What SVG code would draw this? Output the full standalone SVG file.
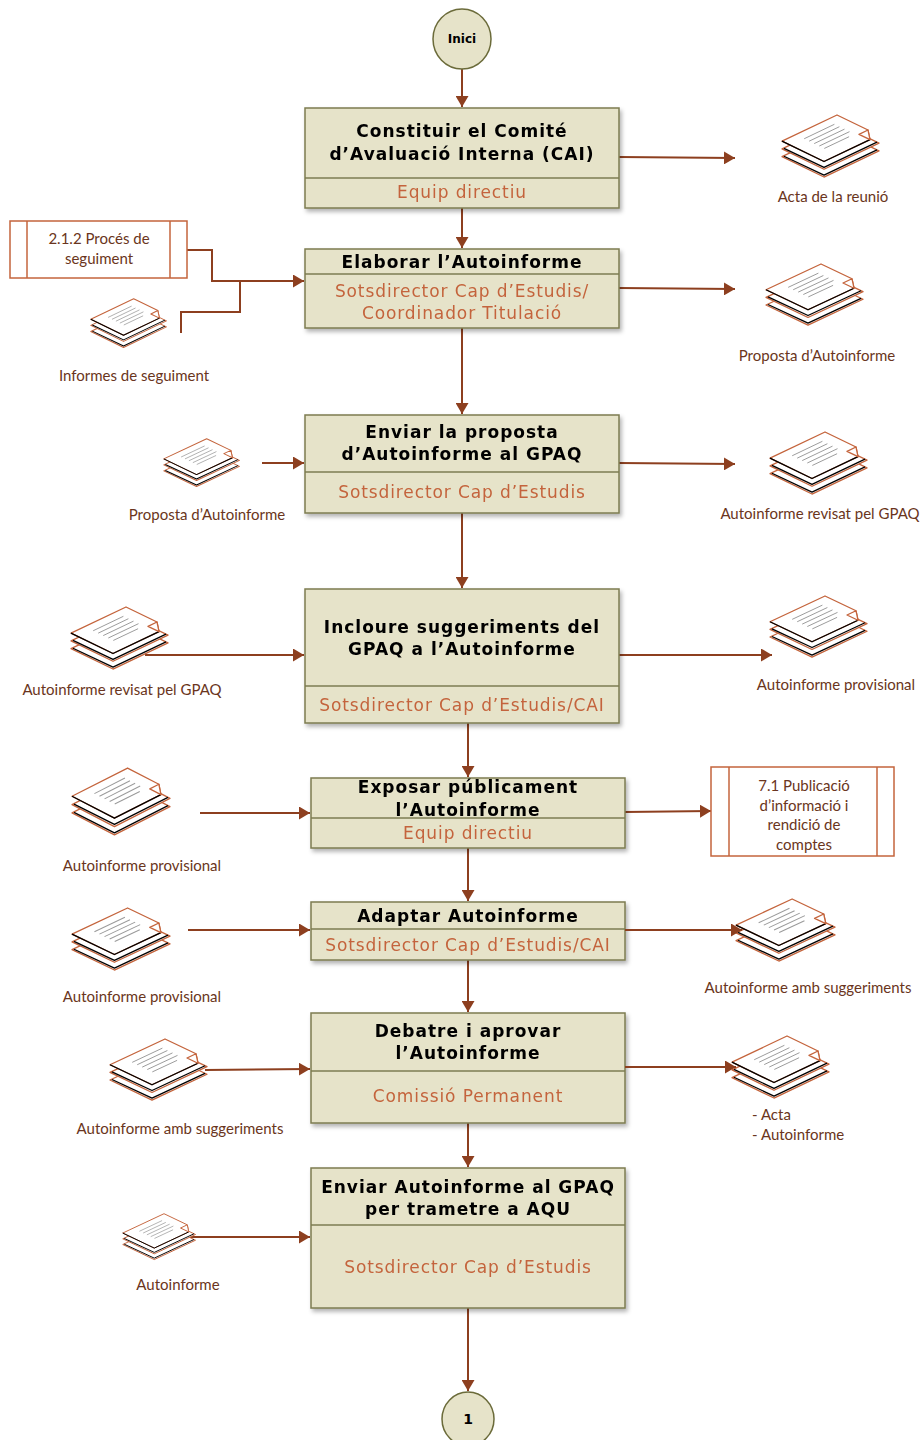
<svg xmlns="http://www.w3.org/2000/svg" xmlns:xlink="http://www.w3.org/1999/xlink" width="923" height="1440" viewBox="0 0 923 1440">
<style>
.box{fill:#e6e3c9;stroke:#7d7c50;stroke-width:1.5}
.div{stroke:#7d7c50;stroke-width:1.5}
.title{font-family:"DejaVu Sans",Verdana,sans-serif;font-weight:bold;font-size:17px;letter-spacing:1px;fill:#000;text-anchor:middle}
.role{font-family:"DejaVu Sans",Verdana,sans-serif;font-size:17px;letter-spacing:0.9px;fill:#c4643c;text-anchor:middle}
.lbl{font-family:Lato,"Liberation Sans",sans-serif;font-size:15px;fill:#6a3520;text-anchor:middle}
.lbls{font-family:Lato,"Liberation Sans",sans-serif;font-size:15px;fill:#6a3520;text-anchor:start}
.sub{fill:#fff;stroke:#c4643c;stroke-width:1.5}
.conn{fill:none;stroke:#8d3f1f;stroke-width:2}
.term{fill:#e6e3c9;stroke:#6b6b3a;stroke-width:1.5}
.termt{font-family:"DejaVu Sans",Verdana,sans-serif;font-weight:bold;fill:#000;text-anchor:middle}
</style>
<defs>
<marker id="arr" markerUnits="userSpaceOnUse" markerWidth="12" markerHeight="13" refX="11" refY="6.5" orient="auto">
<path d="M0,0 L11,6.5 L0,13 z" fill="#8d3f1f"/>
</marker>
<filter id="sh" x="-5%" y="-5%" width="115%" height="120%">
<feDropShadow dx="2" dy="3" stdDeviation="2" flood-color="#000" flood-opacity="0.3"/>
</filter>
<symbol id="doc" viewBox="-1 -1 100 67" preserveAspectRatio="none">
<g stroke-linejoin="round" stroke-width="1.3">
<polygon points="0,43 55,16 97,37 42,64" fill="#fff" stroke="#c4643c"/>
<polyline points="2,42.5 42,62 95,36" fill="none" stroke="#000"/>
<polygon points="0,35 55,8 97,29 42,56" fill="#fff" stroke="#c4643c"/>
<polyline points="2,34.5 42,54 95,28" fill="none" stroke="#000"/>
<polygon points="0,27 55,0 86,15.5 88,25.4 42,48" fill="#fff" stroke="#c4643c"/>
<polyline points="0,27 42,48 88,25.4" fill="none" stroke="#000"/>
<polygon points="86,15.5 77,20 88,25.4" fill="#fff" stroke="#c4643c"/>
<g stroke="#9a9a9a" stroke-width="1">
<line x1="22.2" y1="24.5" x2="52.4" y2="9.6"/>
<line x1="27.2" y1="27" x2="57.4" y2="12.1"/>
<line x1="32.2" y1="29.5" x2="62.5" y2="14.6"/>
<line x1="37.3" y1="32" x2="67.5" y2="17.2"/>
<line x1="42.3" y1="34.5" x2="67.1" y2="22.4"/>
</g>
</g>
</symbol>
</defs>

<g id="connectors">
<path class="conn" d="M462,69 V107" marker-end="url(#arr)"/>
<path class="conn" d="M619,157 L735,158" marker-end="url(#arr)"/>
<path class="conn" d="M462,208 V248" marker-end="url(#arr)"/>
<path class="conn" d="M187,250 H212 V281 H304" marker-end="url(#arr)"/>
<path class="conn" d="M181,333 V312 H240 V281"/>
<path class="conn" d="M619,288 L735,289" marker-end="url(#arr)"/>
<path class="conn" d="M462,328 V414" marker-end="url(#arr)"/>
<path class="conn" d="M262,463 H304" marker-end="url(#arr)"/>
<path class="conn" d="M619,463 L735,464" marker-end="url(#arr)"/>
<path class="conn" d="M462,513 V588" marker-end="url(#arr)"/>
<path class="conn" d="M145,655 H304" marker-end="url(#arr)"/>
<path class="conn" d="M619,655 H772" marker-end="url(#arr)"/>
<path class="conn" d="M468,723 V777" marker-end="url(#arr)"/>
<path class="conn" d="M200,813 H310" marker-end="url(#arr)"/>
<path class="conn" d="M625,812 L711,811" marker-end="url(#arr)"/>
<path class="conn" d="M468,848 V901" marker-end="url(#arr)"/>
<path class="conn" d="M188,930 H310" marker-end="url(#arr)"/>
<path class="conn" d="M468,960 V1012" marker-end="url(#arr)"/>
<path class="conn" d="M205,1070 L310,1069" marker-end="url(#arr)"/>
<path class="conn" d="M468,1123 V1167" marker-end="url(#arr)"/>
<path class="conn" d="M190,1237 H310" marker-end="url(#arr)"/>
<path class="conn" d="M468,1308 V1391" marker-end="url(#arr)"/>
</g>

<g id="start">
<ellipse class="term" cx="462" cy="39" rx="29" ry="30"/>
<text class="termt" x="462" y="43" font-size="12">Inici</text>
</g>

<g id="n1" filter="url(#sh)">
<rect class="box" x="305" y="108" width="314" height="100"/>
<line class="div" x1="305" y1="178" x2="619" y2="178"/>
<text class="title" x="462" y="137">Constituir el Comité</text>
<text class="title" x="462" y="160">d’Avaluació Interna (CAI)</text>
<text class="role" x="462" y="198">Equip directiu</text>
</g>

<g id="n2" filter="url(#sh)">
<rect class="box" x="305" y="249" width="314" height="79"/>
<line class="div" x1="305" y1="274" x2="619" y2="274"/>
<text class="title" x="462" y="268">Elaborar l’Autoinforme</text>
<text class="role" x="462" y="297">Sotsdirector Cap d’Estudis/</text>
<text class="role" x="462" y="319">Coordinador Titulació</text>
</g>

<g id="n3" filter="url(#sh)">
<rect class="box" x="305" y="415" width="314" height="98"/>
<line class="div" x1="305" y1="472" x2="619" y2="472"/>
<text class="title" x="462" y="438">Enviar la proposta</text>
<text class="title" x="462" y="460">d’Autoinforme al GPAQ</text>
<text class="role" x="462" y="498">Sotsdirector Cap d’Estudis</text>
</g>

<g id="n4" filter="url(#sh)">
<rect class="box" x="305" y="589" width="314" height="134"/>
<line class="div" x1="305" y1="686" x2="619" y2="686"/>
<text class="title" x="462" y="633">Incloure suggeriments del</text>
<text class="title" x="462" y="655">GPAQ a l’Autoinforme</text>
<text class="role" x="462" y="711">Sotsdirector Cap d’Estudis/CAI</text>
</g>

<g id="n5" filter="url(#sh)">
<rect class="box" x="311" y="778" width="314" height="70"/>
<line class="div" x1="311" y1="818" x2="625" y2="818"/>
<text class="title" x="468" y="793">Exposar públicament</text>
<text class="title" x="468" y="816">l’Autoinforme</text>
<text class="role" x="468" y="839">Equip directiu</text>
</g>

<g id="n6" filter="url(#sh)">
<rect class="box" x="311" y="902" width="314" height="58"/>
<line class="div" x1="311" y1="929" x2="625" y2="929"/>
<text class="title" x="468" y="922">Adaptar Autoinforme</text>
<text class="role" x="468" y="951">Sotsdirector Cap d’Estudis/CAI</text>
</g>

<g id="n7" filter="url(#sh)">
<rect class="box" x="311" y="1013" width="314" height="110"/>
<line class="div" x1="311" y1="1071" x2="625" y2="1071"/>
<text class="title" x="468" y="1037">Debatre i aprovar</text>
<text class="title" x="468" y="1059">l’Autoinforme</text>
<text class="role" x="468" y="1102">Comissió Permanent</text>
</g>

<g id="n8" filter="url(#sh)">
<rect class="box" x="311" y="1168" width="314" height="140"/>
<line class="div" x1="311" y1="1225" x2="625" y2="1225"/>
<text class="title" x="468" y="1193">Enviar Autoinforme al GPAQ</text>
<text class="title" x="468" y="1215">per trametre a AQU</text>
<text class="role" x="468" y="1273">Sotsdirector Cap d’Estudis</text>
</g>

<g id="end">
<ellipse class="term" cx="468" cy="1419" rx="26" ry="27"/>
<text class="termt" x="468" y="1424" font-size="14">1</text>
</g>

<g id="sp212">
<rect class="sub" x="10" y="221" width="177" height="57"/>
<line class="sub" x1="27" y1="221" x2="27" y2="278"/>
<line class="sub" x1="170" y1="221" x2="170" y2="278"/>
<text class="lbl" x="99" y="244">2.1.2 Procés de</text>
<text class="lbl" x="99" y="264">seguiment</text>
</g>

<g id="sp71">
<rect class="sub" x="711" y="767" width="183" height="89"/>
<line class="sub" x1="729" y1="767" x2="729" y2="856"/>
<line class="sub" x1="877" y1="767" x2="877" y2="856"/>
<text class="lbl" x="804" y="791">7.1 Publicació</text>
<text class="lbl" x="804" y="811">d’informació i</text>
<text class="lbl" x="804" y="830">rendició de</text>
<text class="lbl" x="804" y="850">comptes</text>
</g>

<g id="d1"><use xlink:href="#doc" x="781" y="114" width="100" height="65"/><text class="lbl" x="833" y="202">Acta de la reunió</text></g>
<g id="d2"><use xlink:href="#doc" x="765" y="263" width="100" height="64"/><text class="lbl" x="817" y="361">Proposta d’Autoinforme</text></g>
<g id="d3"><use xlink:href="#doc" x="90" y="298" width="78" height="51"/><text class="lbl" x="134" y="381">Informes de seguiment</text></g>
<g id="d4"><use xlink:href="#doc" x="163" y="438" width="78" height="50"/><text class="lbl" x="207" y="520">Proposta d’Autoinforme</text></g>
<g id="d5"><use xlink:href="#doc" x="769" y="431" width="100" height="65"/><text class="lbl" x="820" y="519">Autoinforme revisat pel GPAQ</text></g>
<g id="d6"><use xlink:href="#doc" x="70" y="606" width="100" height="65"/><text class="lbl" x="122" y="695">Autoinforme revisat pel GPAQ</text></g>
<g id="d7"><use xlink:href="#doc" x="769" y="595" width="100" height="64"/><text class="lbl" x="836" y="690">Autoinforme provisional</text></g>
<g id="d8"><use xlink:href="#doc" x="71" y="767" width="101" height="70"/><text class="lbl" x="142" y="871">Autoinforme provisional</text></g>
<g id="d9"><use xlink:href="#doc" x="71" y="907" width="101" height="65"/><text class="lbl" x="142" y="1002">Autoinforme provisional</text></g>
<g id="d10"><use xlink:href="#doc" x="735" y="898" width="102" height="65"/><text class="lbl" x="808" y="993">Autoinforme amb suggeriments</text></g>
<g id="d11"><use xlink:href="#doc" x="109" y="1038" width="100" height="64"/><text class="lbl" x="180" y="1134">Autoinforme amb suggeriments</text></g>
<g id="d12"><use xlink:href="#doc" x="731" y="1035" width="100" height="65"/><text class="lbls" x="752" y="1120">- Acta</text><text class="lbls" x="752" y="1140">- Autoinforme</text></g>
<g id="d13"><use xlink:href="#doc" x="122" y="1213" width="75" height="48"/><text class="lbl" x="178" y="1290">Autoinforme</text></g>

<g id="connectors-over">
<path class="conn" d="M625,930 H742" marker-end="url(#arr)"/>
<path class="conn" d="M625,1067 H736" marker-end="url(#arr)"/>
</g>
</svg>
